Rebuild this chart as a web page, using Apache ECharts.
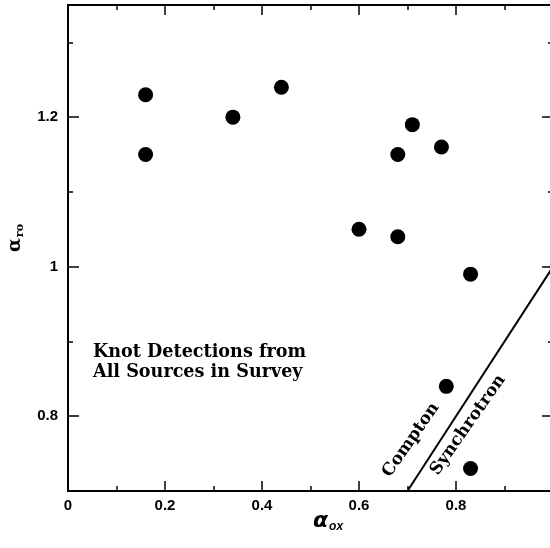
<!DOCTYPE html>
<html>
<head>
<meta charset="utf-8">
<script src="https://cdn.jsdelivr.net/npm/echarts@6/dist/echarts.min.js"></script>
<style>html,body{margin:0;padding:0;background:#fff;}#c{width:550px;height:548px;}</style>
</head>
<body>
<div id="c"></div>
<script>
// Data
var alphaOx = [0.16, 0.16, 0.34, 0.44, 0.60, 0.68, 0.71, 0.68, 0.77, 0.83, 0.78, 0.83];
var alphaRo = [1.23, 1.15, 1.20, 1.24, 1.05, 1.15, 1.19, 1.04, 1.16, 0.99, 0.84, 0.73];
var boundaryX = [0.70, 1.00];
var boundaryY = [0.70, 1.00];
var xTickLabels = ['0', '0.2', '0.4', '0.6', '0.8'];
var yMajorTicks = [0.8, 1.0, 1.2];
var yMinorTicks = [0.9, 1.1, 1.3];
var yTickLabels = {'0.8': '0.8', '1': '1', '1.2': '1.2'};
var noteLines = ['Knot Detections from', 'All Sources in Survey'];
var regionLabels = ['Compton', 'Synchrotron'];

var pts = alphaOx.map(function (x, i) { return [x, alphaRo[i]]; });
var line = boundaryX.map(function (x, i) { return [x, boundaryY[i]]; });

var chart = echarts.init(document.getElementById('c'));
var tickFont = {color: '#000', fontWeight: 'bold', fontSize: 15, fontFamily: 'Liberation Sans'};
var serif = 'DejaVu Serif';

function yAx(pos, ticks, len, showLine, showLabel) {
  return {
    type: 'value', position: pos, min: 0.7, max: 1.35,
    splitLine: {show: false},
    axisLine: {show: showLine, lineStyle: {color: '#000', width: 2}},
    axisTick: {show: true, inside: true, length: len, customValues: ticks, lineStyle: {color: '#000', width: 1.5}},
    axisLabel: showLabel ? Object.assign({show: true, margin: 10, customValues: yMajorTicks,
      formatter: function (v) { return yTickLabels[String(+v.toFixed(2))] || ''; }}, tickFont) : {show: false}
  };
}
function xAx(pos, showLabel) {
  return {
    type: 'value', position: pos, min: 0, max: 1, interval: 0.2,
    splitLine: {show: false},
    axisLine: {show: true, lineStyle: {color: '#000', width: 2}},
    axisTick: {show: true, inside: true, length: 10, lineStyle: {color: '#000', width: 1.5}},
    minorTick: {show: true, splitNumber: 2, length: 5, lineStyle: {color: '#000', width: 1.5}},
    axisLabel: showLabel ? Object.assign({show: true, margin: 7,
      formatter: function (v) { var i = Math.round(v / 0.2); return xTickLabels[i] || ''; }}, tickFont) : {show: false}
  };
}

chart.setOption({
  backgroundColor: '#fff',
  animation: false,
  grid: {left: 68, top: 5, width: 485, height: 486, outerBoundsMode: 'none', containLabel: false},
  xAxis: [xAx('bottom', true), xAx('top', false)],
  yAxis: [
    yAx('left', yMajorTicks, 11, true, true),
    yAx('left', yMinorTicks, 5, false, false),
    yAx('right', yMajorTicks, 11, true, false),
    yAx('right', yMinorTicks, 5, false, false)
  ],
  series: [
    {type: 'scatter', xAxisIndex: 0, yAxisIndex: 0, data: pts, symbolSize: 15,
      itemStyle: {color: '#000', opacity: 1}},
    {type: 'line', xAxisIndex: 0, yAxisIndex: 0, data: line, symbol: 'none',
      lineStyle: {color: '#000', width: 2}}
  ],
  graphic: [
    {type: 'text', left: 93, top: 342, style: {text: noteLines.join('\n'), font: 'bold 17.6px "' + serif + '"', fill: '#000', lineHeight: 20}},
    {type: 'text', x: 411, y: 440, rotation: 55 * Math.PI / 180, style: {text: regionLabels[0], font: 'bold 17px "' + serif + '"', fill: '#000', align: 'center', verticalAlign: 'middle'}},
    {type: 'text', x: 468, y: 425, rotation: 55 * Math.PI / 180, style: {text: regionLabels[1], font: 'bold 17px "' + serif + '"', fill: '#000', align: 'center', verticalAlign: 'middle'}},
    {type: 'text', x: 328, y: 521, style: {
      text: '{a|α}{s|ox}', align: 'center', verticalAlign: 'middle',
      rich: {a: {font: 'italic bold 22px "DejaVu Sans"', fill: '#000'}, s: {font: 'italic bold 12px "Liberation Sans"', fill: '#000', padding: [12, 0, 0, 1]}}}},
    {type: 'text', x: 15, y: 238, rotation: Math.PI / 2, style: {
      text: '{a|α}{s|ro}', align: 'center', verticalAlign: 'middle',
      rich: {a: {font: 'bold 18px "DejaVu Serif"', fill: '#000'}, s: {font: 'bold 11px "DejaVu Serif"', fill: '#000', padding: [10, 0, 0, 1]}}}}
  ]
});
</script>
</body>
</html>
